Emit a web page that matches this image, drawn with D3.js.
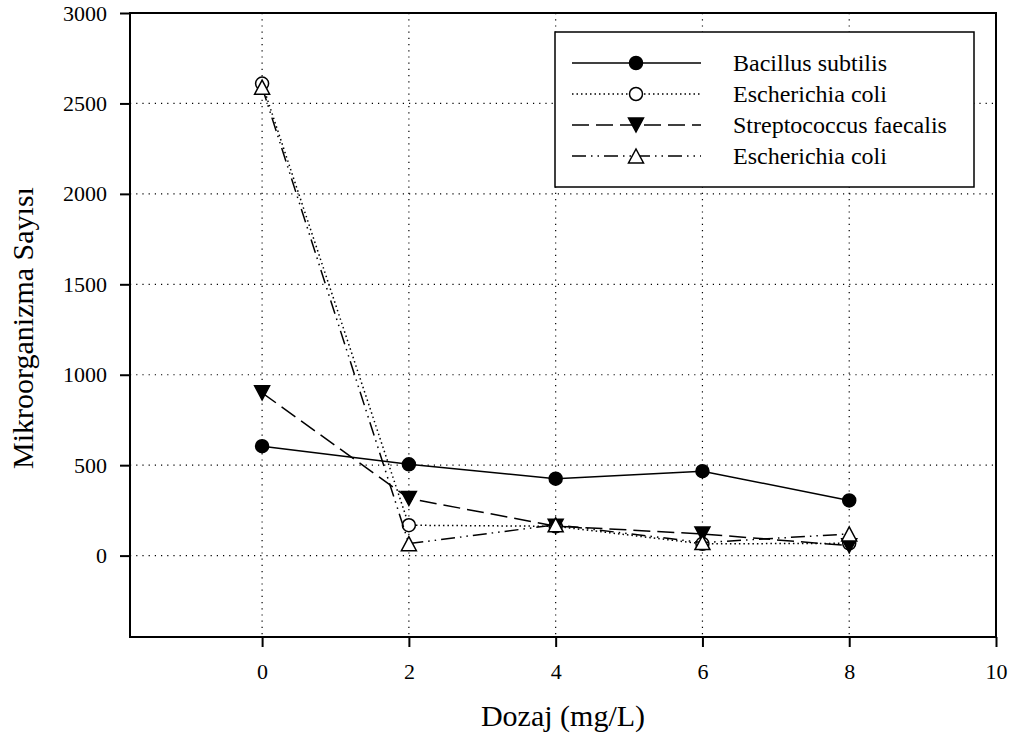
<!DOCTYPE html>
<html>
<head>
<meta charset="utf-8">
<script src="https://cdn.jsdelivr.net/npm/d3@7"></script>
<style>
    body { margin: 0; background: #fff; }
    text { font-family: "Liberation Serif", "Times New Roman", serif; fill: #000; }
</style>
</head>
<body>
<svg id="mainSvg" width="1015" height="749"></svg>
<script>
// Data
let doses = [0, 2, 4, 6, 8];
let bacillus = [605, 505, 425, 467, 305];
let ecoli1 = [2610, 168, 162, 65, 68];
let strep = [900, 316, 163, 120, 55];
let ecoli2 = [2590, 66, 170, 72, 120];

let xTicks = [0, 2, 4, 6, 8, 10];
let yTicks = [0, 500, 1000, 1500, 2000, 2500, 3000];
let xGrid = [0, 2, 4, 6, 8];
let yGrid = [0, 500, 1000, 1500, 2000, 2500];

let series = [
    { name: "Bacillus subtilis", values: bacillus, dash: null, marker: "circle", fill: "#000" },
    { name: "Escherichia coli", values: ecoli1, dash: "1.5,3", marker: "circle", fill: "#fff" },
    { name: "Streptococcus faecalis", values: strep, dash: "17,7", marker: "down", fill: "#000" },
    { name: "Escherichia coli", values: ecoli2, dash: "14,5,1.5,5,1.5,5", marker: "up", fill: "#fff" },
];

let margin = { left: 130, top: 13, right: 996, bottom: 637 };

let x = d3.scaleLinear().domain([-1.8, 10]).range([margin.left, margin.right]);
let y = d3.scaleLinear().domain([-450, 3000]).range([margin.bottom, margin.top]);

let svg = d3.select("#mainSvg");

// Grid lines
let grid = svg.append("g");
grid.selectAll("line.gx")
    .data(xGrid)
    .join("line")
    .attr("x1", (d) => x(d))
    .attr("x2", (d) => x(d))
    .attr("y1", margin.top)
    .attr("y2", margin.bottom)
    .attr("stroke", "#000")
    .attr("stroke-width", 1.2)
    .attr("stroke-dasharray", "1.2,5");
grid.selectAll("line.gy")
    .data(yGrid)
    .join("line")
    .attr("y1", (d) => y(d))
    .attr("y2", (d) => y(d))
    .attr("x1", margin.left)
    .attr("x2", margin.right)
    .attr("stroke", "#000")
    .attr("stroke-width", 1.2)
    .attr("stroke-dasharray", "1.2,5");

// Frame
svg.append("g")
    .append("rect")
    .attr("x", margin.left)
    .attr("y", margin.top)
    .attr("width", margin.right - margin.left)
    .attr("height", margin.bottom - margin.top)
    .attr("fill", "none")
    .attr("stroke", "#000")
    .attr("stroke-width", 2);

// Axes
let xAxis = svg.append("g")
    .attr("transform", `translate(0,${margin.bottom})`)
    .call(d3.axisBottom(x).tickValues(xTicks).tickSize(10).tickPadding(16).tickFormat(d3.format("d")));
let yAxis = svg.append("g")
    .attr("transform", `translate(${margin.left},0)`)
    .call(d3.axisLeft(y).tickValues(yTicks).tickSize(10).tickPadding(13).tickFormat(d3.format("d")));
[xAxis, yAxis].forEach((a) => {
    a.select(".domain").remove();
    a.attr("font-size", 22).attr("font-family", "Liberation Serif");
    a.selectAll(".tick line").attr("stroke", "#000").attr("stroke-width", 2);
    a.selectAll(".tick text").style("font-size", "22px");
});

// Axis titles
svg.append("g")
    .append("text")
    .attr("x", 563)
    .attr("y", 726)
    .attr("text-anchor", "middle")
    .attr("font-size", 30)
    .text("Dozaj (mg/L)");
svg.append("g")
    .append("text")
    .attr("transform", "translate(33,328) rotate(-90)")
    .attr("text-anchor", "middle")
    .attr("font-size", 30)
    .text("Mikroorganizma Sayısı");

// Marker drawer
let drawMarker = function (g, s, cx, cy) {
    if (s.marker === "circle") {
        g.append("circle")
            .attr("cx", cx)
            .attr("cy", cy)
            .attr("r", 6.5)
            .attr("fill", s.fill)
            .attr("stroke", "#000")
            .attr("stroke-width", 1.5);
    } else {
        let h = 12, w = 7.5;
        let pts = s.marker === "down"
            ? [[cx - w, cy - h / 2 - 1], [cx + w, cy - h / 2 - 1], [cx, cy + h / 2 + 1]]
            : [[cx - w, cy + h / 2 + 1], [cx + w, cy + h / 2 + 1], [cx, cy - h / 2 - 1]];
        g.append("polygon")
            .attr("points", pts.map((p) => p.join(",")).join(" "))
            .attr("fill", s.fill)
            .attr("stroke", "#000")
            .attr("stroke-width", 1.5);
    }
};

// Series lines and markers
let line = d3.line().x((d) => x(d[0])).y((d) => y(d[1]));
series.forEach((s) => {
    let g = svg.append("g");
    g.append("path")
        .datum(doses.map((d, i) => [d, s.values[i]]))
        .attr("d", line)
        .attr("fill", "none")
        .attr("stroke", "#000")
        .attr("stroke-width", 1.5)
        .attr("stroke-dasharray", s.dash);
    doses.forEach((d, i) => drawMarker(g, s, x(d), y(s.values[i])));
});

// Legend
let legend = svg.append("g");
legend.append("rect")
    .attr("x", 555)
    .attr("y", 32)
    .attr("width", 419)
    .attr("height", 155)
    .attr("fill", "#fff")
    .attr("stroke", "#000")
    .attr("stroke-width", 1.5);
series.forEach((s, i) => {
    let ly = 63 + i * 31;
    let g = legend.append("g");
    g.append("line")
        .attr("x1", 572)
        .attr("x2", 701)
        .attr("y1", ly)
        .attr("y2", ly)
        .attr("stroke", "#000")
        .attr("stroke-width", 1.5)
        .attr("stroke-dasharray", s.dash);
    drawMarker(g, s, 636, ly);
    g.append("text")
        .attr("x", 733)
        .attr("y", ly + 8)
        .attr("font-size", 24)
        .text(s.name);
});
</script>
</body>
</html>
